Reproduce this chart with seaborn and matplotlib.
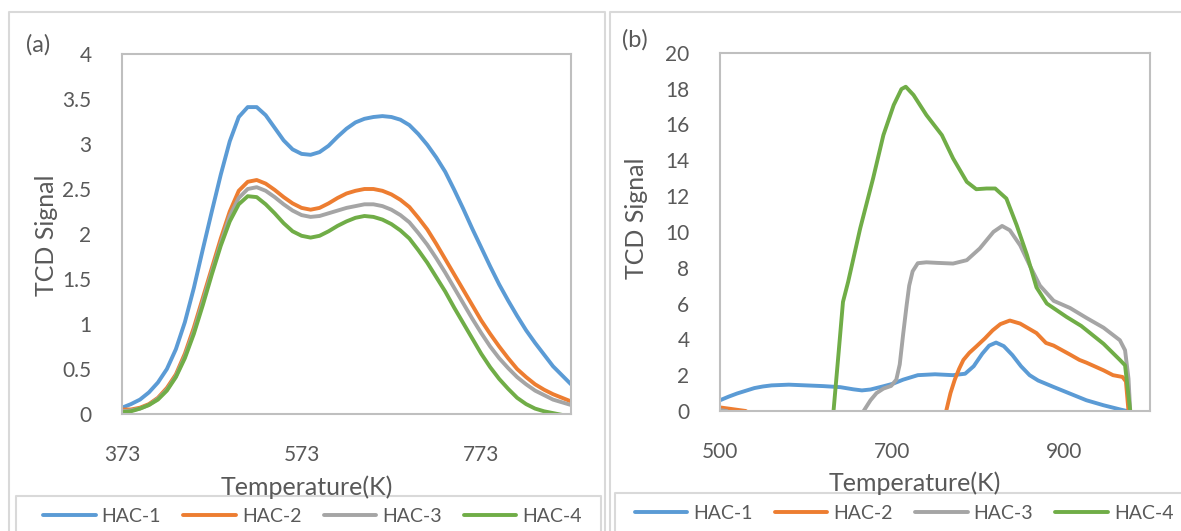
import numpy as np
import pandas as pd
import matplotlib
matplotlib.use("Agg")
import matplotlib.pyplot as plt
from matplotlib.lines import Line2D
import seaborn as sns

# ---------------- data: panel (a) ----------------
temp_a = [373, 383, 393, 403, 413, 423, 433, 443, 453, 463, 473, 483, 493, 503, 513, 523, 533,
          543, 553, 563, 573, 583, 593, 603, 613, 623, 633, 643, 653, 663, 673, 683, 693, 703,
          713, 723, 733, 743, 753, 763, 773, 783, 793, 803, 813, 823, 833, 843, 853, 863, 873]
hac1_a = [0.07, 0.11, 0.16, 0.24, 0.35, 0.50, 0.72, 1.02, 1.40, 1.83, 2.25, 2.66, 3.03, 3.30, 3.41, 3.41, 3.32,
          3.18, 3.04, 2.94, 2.89, 2.88, 2.91, 2.98, 3.08, 3.17, 3.24, 3.28, 3.30, 3.31, 3.30, 3.27, 3.21, 3.11,
          2.99, 2.85, 2.69, 2.49, 2.28, 2.06, 1.85, 1.64, 1.44, 1.26, 1.09, 0.93, 0.79, 0.66, 0.53, 0.43, 0.33]
hac2_a = [0.05, 0.05, 0.07, 0.11, 0.18, 0.29, 0.44, 0.67, 0.96, 1.29, 1.62, 1.95, 2.25, 2.48, 2.58, 2.60, 2.56,
          2.49, 2.41, 2.34, 2.29, 2.27, 2.29, 2.34, 2.40, 2.45, 2.48, 2.50, 2.50, 2.48, 2.44, 2.38, 2.30, 2.18,
          2.05, 1.89, 1.72, 1.55, 1.38, 1.21, 1.04, 0.89, 0.75, 0.62, 0.50, 0.41, 0.33, 0.27, 0.22, 0.18, 0.14]
hac3_a = [0.03, 0.04, 0.06, 0.10, 0.17, 0.27, 0.42, 0.64, 0.92, 1.25, 1.58, 1.90, 2.20, 2.40, 2.50, 2.52, 2.48,
          2.41, 2.33, 2.26, 2.21, 2.19, 2.20, 2.23, 2.26, 2.29, 2.31, 2.33, 2.33, 2.31, 2.27, 2.21, 2.13, 2.01,
          1.88, 1.73, 1.57, 1.40, 1.23, 1.06, 0.90, 0.75, 0.62, 0.51, 0.41, 0.33, 0.26, 0.21, 0.16, 0.13, 0.10]
hac4_a = [0.02, 0.03, 0.06, 0.10, 0.16, 0.26, 0.41, 0.62, 0.89, 1.21, 1.55, 1.87, 2.14, 2.33, 2.42, 2.41, 2.33,
          2.23, 2.12, 2.03, 1.98, 1.96, 1.98, 2.03, 2.09, 2.14, 2.18, 2.20, 2.19, 2.16, 2.11, 2.04, 1.95, 1.82,
          1.68, 1.52, 1.36, 1.18, 1.01, 0.84, 0.67, 0.52, 0.39, 0.28, 0.18, 0.11, 0.06, 0.03, 0.01, -0.01, -0.03]

# ---------------- data: panel (b) ----------------
hac1_b_t = [500, 510, 520, 530, 540, 550, 560, 580, 600, 620, 640, 655, 665, 675, 690, 701,
            713, 730, 750, 771, 785, 795, 805, 813, 821, 830, 840, 850, 860, 870, 888,
            907, 926, 946, 965, 973, 985]
hac1_b = [0.60, 0.80, 0.98, 1.13, 1.28, 1.37, 1.43, 1.47, 1.43, 1.39, 1.33, 1.21, 1.15, 1.20, 1.38, 1.52,
          1.75, 2.00, 2.05, 2.00, 2.08, 2.50, 3.20, 3.65, 3.82, 3.62, 3.12, 2.50, 2.00, 1.70, 1.34,
          0.97, 0.60, 0.32, 0.09, 0.00, -0.20]

hac2_b_t = [500, 515, 530, 540, 755, 763, 768, 773, 778, 783, 790, 798, 808, 817, 826, 837,
            849, 868, 879, 888, 907, 918, 926, 946, 957, 968, 972, 975, 977]
hac2_b = [0.20, 0.10, 0.00, -0.50, -0.50, 0.00, 1.00, 1.75, 2.35, 2.85, 3.25, 3.60, 4.05, 4.50, 4.85, 5.05,
          4.88, 4.35, 3.80, 3.65, 3.15, 2.85, 2.70, 2.27, 2.00, 1.90, 1.65, 0.00, -0.50]

hac3_b_t = [500, 508, 515, 660, 667, 675, 682, 690, 699, 705, 709, 713, 717, 720, 724, 730,
            740, 752, 771, 787, 802, 818, 828, 837, 849, 860, 872, 888, 907, 926, 946,
            965, 971, 975, 977, 978]
hac3_b = [0.05, 0.00, -0.50, -0.50, 0.00, 0.60, 1.00, 1.25, 1.40, 1.75, 2.60, 4.30, 5.90, 7.00, 7.80, 8.25,
          8.30, 8.27, 8.23, 8.42, 9.07, 10.00, 10.33, 10.09, 9.25, 8.14, 7.00, 6.15, 5.75, 5.20, 4.65,
          3.95, 3.39, 1.81, 0.00, -0.50]

hac4_b_t = [500, 625, 632, 638, 643, 649, 663, 678, 690, 702, 711, 716, 725, 740, 758, 771,
            787, 798, 810, 820, 833, 845, 857, 868, 880, 903, 920, 946, 965, 971, 977, 978]
hac4_b = [-0.50, -0.50, 0.00, 3.30, 6.09, 7.21, 10.19, 12.98, 15.40, 17.08, 17.97, 18.10, 17.64, 16.52,
          15.40, 14.10, 12.79, 12.38, 12.42, 12.42, 11.86, 10.37, 8.70, 6.90, 6.00, 5.25, 4.75,
          3.75, 2.85, 2.55, 0.00, -0.50]

labels = ["HAC-1", "HAC-2", "HAC-3", "HAC-4"]
colors = ["#5B9BD5", "#ED7D31", "#A5A5A5", "#70AD47"]
xticks_a = [373, 573, 773]
yticks_a = [0, 0.5, 1, 1.5, 2, 2.5, 3, 3.5, 4]
xticks_b = [500, 700, 900]
yticks_b = [0, 2, 4, 6, 8, 10, 12, 14, 16, 18, 20]

df_a = pd.concat([pd.DataFrame({"T": temp_a, "S": v, "sample": lab})
                  for v, lab in zip([hac1_a, hac2_a, hac3_a, hac4_a], labels)])
df_b = pd.concat([pd.DataFrame({"T": t, "S": v, "sample": lab})
                  for t, v, lab in zip([hac1_b_t, hac2_b_t, hac3_b_t, hac4_b_t],
                                       [hac1_b, hac2_b, hac3_b, hac4_b], labels)])

sns.set_style("white")
plt.rcParams["font.family"] = ["Lato", "DejaVu Sans"]

W, H = 1181, 531
fig = plt.figure(figsize=(W / 100, H / 100), dpi=100)
fig.patch.set_facecolor("white")

def box(l, t, r, b):
    return [l / W, 1 - b / H, (r - l) / W, (b - t) / H]

ax_a = fig.add_axes(box(122, 54, 571, 414))
ax_b = fig.add_axes(box(720, 52.7, 1150, 411))

text_col = "#595959"
palette = dict(zip(labels, colors))
LW = 2.8

def fmt(v):
    return ("%g" % v)

for ax, df, xt, yt, xl, yl in [(ax_a, df_a, xticks_a, yticks_a, (373, 873), (0, 4)),
                               (ax_b, df_b, xticks_b, yticks_b, (500, 1000), (0, 20))]:
    sns.lineplot(data=df, x="T", y="S", hue="sample", palette=palette, ax=ax,
                 linewidth=LW, legend=False, sort=False, estimator=None)
    ax.set_xlim(*xl)
    ax.set_ylim(*yl)
    ax.set_xticks(xt)
    ax.set_xticklabels([fmt(v) for v in xt])
    ax.set_yticks(yt)
    ax.set_yticklabels([fmt(v) for v in yt])
    ax.tick_params(axis="both", length=0, labelsize=15, colors=text_col)
    ax.tick_params(axis="y", pad=22)
    ax.tick_params(axis="x", pad=22)
    for sp in ax.spines.values():
        sp.set_color("#BFBFBF")
        sp.set_linewidth(1.5)
        sp.set_visible(True)
    ax.set_xlabel("")
    ax.set_ylabel("")
    for ln in ax.get_lines():
        ln.set_solid_joinstyle("round")

# axis titles
fig.text(307 / W, 1 - 487 / H, "Temperature(K)", ha="center", va="center", fontsize=18, color=text_col)
fig.text(915 / W, 1 - 483 / H, "Temperature(K)", ha="center", va="center", fontsize=18, color=text_col)
fig.text(46 / W, 1 - 235 / H, "TCD Signal", ha="center", va="center", rotation=90, fontsize=18, color=text_col)
fig.text(637 / W, 1 - 218 / H, "TCD Signal", ha="center", va="center", rotation=90, fontsize=18, color=text_col)
fig.text(38 / W, 1 - 45 / H, "(a)", ha="center", va="center", fontsize=17, color=text_col)
fig.text(635 / W, 1 - 40 / H, "(b)", ha="center", va="center", fontsize=17, color=text_col)

# chart-area and legend frames
fcol = "#D9D9D9"
def fline(xs, ys):
    fig.add_artist(Line2D([x / W for x in xs], [1 - y / H for y in ys], color=fcol, lw=1.5))

fline([8.5, 8.5, 605, 605], [H + 5, 12, 12, H + 5])
fline([610, 610, W + 5], [H + 5, 12, 12])
fline([15.5, 15.5, 601, 601], [H + 5, 496, 496, H + 5])
fline([615, 615, W + 5], [H + 5, 493, 493])

# legends
for cx, cy in [(312.5, 516), (904, 513.5)]:
    handles = [Line2D([0], [0], color=c, lw=LW) for c in colors]
    leg = fig.legend(handles, labels, loc="center", bbox_to_anchor=(cx / W, 1 - cy / H),
                     bbox_transform=fig.transFigure, ncol=4, frameon=False,
                     fontsize=14, handlelength=2.7, handletextpad=0.3, columnspacing=1.15,
                     borderpad=0, borderaxespad=0)
    for t in leg.get_texts():
        t.set_color(text_col)

fig.savefig("out.png", dpi=100, facecolor="white")
